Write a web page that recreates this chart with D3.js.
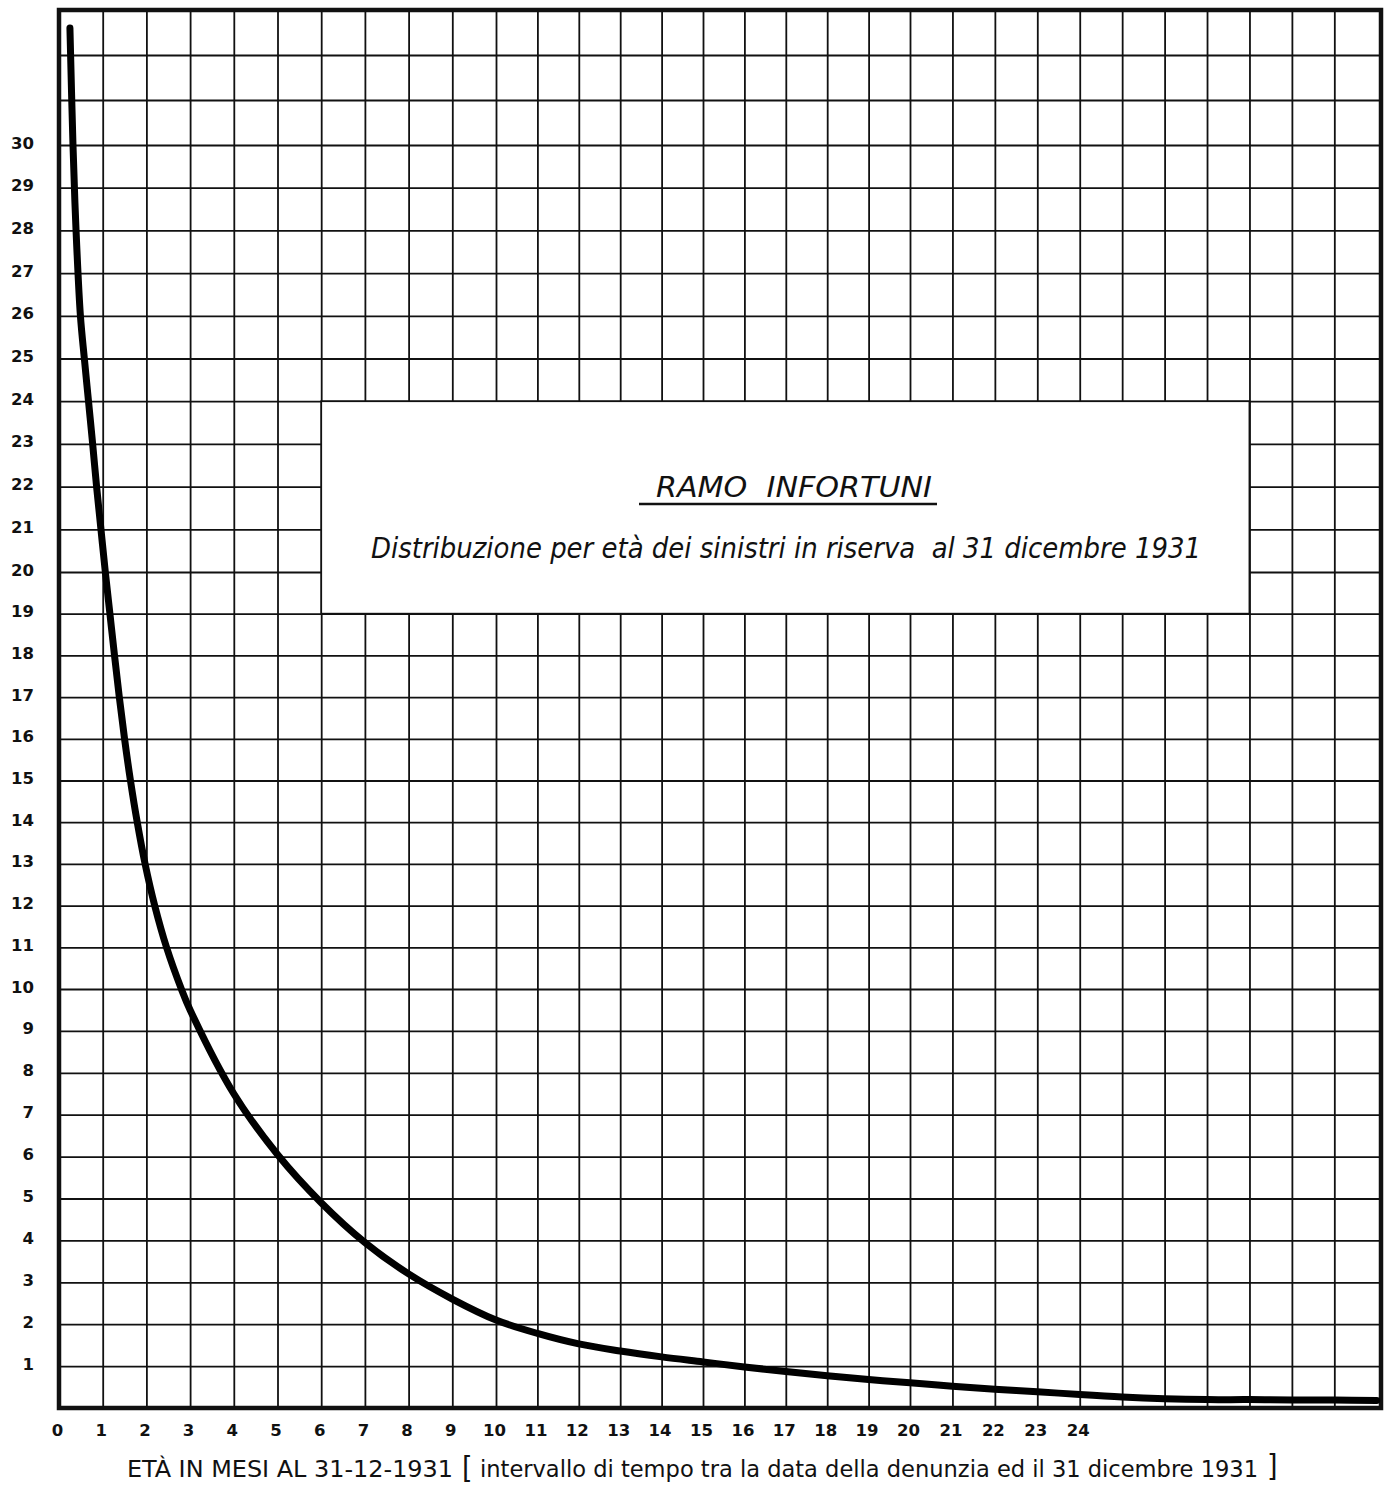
<!DOCTYPE html>
<html>
<head>
<meta charset="utf-8">
<script src="https://cdn.jsdelivr.net/npm/d3@7"></script>
<style>
  body { margin: 0; background: #fff; }
  svg { display: block; }
  .grid line { stroke: #111; stroke-width: 1.8; }
  .grid path { display: none; }
  .lbl text { font-family: "DejaVu Sans", sans-serif; font-weight: bold; font-size: 16.5px; fill: #111; }
  .lbl path, .lbl line { display: none; }
  .note { font-family: "DejaVu Sans Condensed", "DejaVu Sans", sans-serif; font-stretch: condensed; fill: #111; white-space: pre; }
</style>
</head>
<body>
<script>
// età in mesi (ascissa) e numero dei sinistri in riserva (ordinata)
const eta = [0.25, 0.32, 0.39, 0.49, 0.58, 0.675, 0.77, 0.86, 0.96, 1.06, 1.165, 1.27, 1.38, 1.5, 1.635, 1.79, 1.97, 2.19, 2.46, 2.8,
             3, 4, 5, 6, 7, 8, 9, 10, 11, 12, 13, 14, 15, 16, 17, 18, 19, 20, 21, 22, 23, 24, 25, 26, 27, 28, 29, 30, 31];
const sinistri = [32.6, 30, 28, 26, 25, 24, 23, 22, 21, 20, 19, 18, 17, 16, 15, 14, 13, 12, 11, 10,
                  9.5, 7.5, 6.05, 4.9, 3.95, 3.2, 2.6, 2.1, 1.78, 1.53, 1.36, 1.22, 1.1, 0.98, 0.87, 0.77, 0.68, 0.6,
                  0.52, 0.45, 0.39, 0.32, 0.26, 0.22, 0.2, 0.2, 0.19, 0.19, 0.18];

const xTicks = d3.range(0, 25);      // etichette 0..24
const yTicks = d3.range(1, 31);      // etichette 1..30
const xGrid = d3.range(1, 31);
const yGrid = d3.range(1, 33);
const xMax = 31.1, yMax = 33;

const title = "RAMO  INFORTUNI";
const subtitle = "Distribuzione per età dei sinistri in riserva  al 31 dicembre 1931";
const axisTitle1 = "ETÀ IN MESI AL 31-12-1931";
const axisTitle2 = "intervallo di tempo tra la data della denunzia ed il 31 dicembre 1931";

const width = 1388, height = 1488;

// the hand-drawn grid is slightly uneven, so the scales are piecewise
const x = d3.scaleLinear()
    .domain([0, 10, 20, xMax])
    .range([59, 496, 910, 1381]);

const y = d3.scaleLinear()
    .domain([0, 10, 20, 30, yMax])
    .range([1408, 989, 572, 145, 10]);

const svg = d3.select("body").append("svg")
    .attr("width", width)
    .attr("height", height);

svg.append("rect").attr("width", width).attr("height", height).attr("fill", "#fff");

// grid
svg.append("g")
    .attr("class", "grid")
    .attr("transform", "translate(0," + y(0) + ")")
    .call(d3.axisBottom(x).tickValues(xGrid).tickSize(-(y(0) - y(yMax))).tickFormat(""));

svg.append("g")
    .attr("class", "grid")
    .attr("transform", "translate(" + x(0) + ",0)")
    .call(d3.axisLeft(y).tickValues(yGrid).tickSize(-(x(xMax) - x(0))).tickFormat(""));

// white box for the title (grid cells 6..28 x 19..24)
svg.append("rect")
    .attr("x", x(6))
    .attr("y", y(24))
    .attr("width", x(28) - x(6))
    .attr("height", y(19) - y(24))
    .attr("fill", "#fff")
    .attr("stroke", "#111")
    .attr("stroke-width", 1.8);

// frame
svg.append("rect")
    .attr("x", x(0))
    .attr("y", y(yMax))
    .attr("width", x(xMax) - x(0))
    .attr("height", y(0) - y(yMax))
    .attr("fill", "none")
    .attr("stroke", "#111")
    .attr("stroke-width", 4.5);

// tick labels
const xl = svg.append("g")
    .attr("class", "lbl")
    .attr("transform", "translate(-2," + y(0) + ")")
    .call(d3.axisBottom(x).tickValues(xTicks).tickSize(0));
xl.selectAll("text").attr("y", 28).attr("dy", 0);

const yl = svg.append("g")
    .attr("class", "lbl")
    .attr("transform", "translate(34,0)")
    .call(d3.axisLeft(y).tickValues(yTicks).tickSize(0));
yl.selectAll("text").attr("x", 0).attr("dy", 3);

// curve
const line = d3.line()
    .x(function (d, i) { return x(eta[i]); })
    .y(function (d) { return y(d); })
    .curve(d3.curveCatmullRom.alpha(0.5));

svg.append("path")
    .datum(sinistri)
    .attr("d", line)
    .attr("fill", "none")
    .attr("stroke", "#000")
    .attr("stroke-width", 7)
    .attr("stroke-linecap", "round")
    .attr("stroke-linejoin", "round");

// titles
svg.append("text")
    .attr("class", "note")
    .attr("x", 656).attr("y", 497)
    .attr("font-size", 28)
    .attr("font-style", "italic")
    .attr("textLength", 276)
    .attr("lengthAdjust", "spacingAndGlyphs")
    .text(title);

svg.append("line")
    .attr("x1", 639).attr("x2", 937)
    .attr("y1", 504).attr("y2", 504)
    .attr("stroke", "#111").attr("stroke-width", 2.5);

svg.append("text")
    .attr("class", "note")
    .attr("x", 371).attr("y", 558)
    .attr("font-size", 29)
    .attr("font-style", "italic")
    .attr("textLength", 830)
    .attr("lengthAdjust", "spacingAndGlyphs")
    .text(subtitle);

svg.append("text")
    .attr("class", "note")
    .attr("x", 127).attr("y", 1477)
    .attr("font-size", 23)
    .attr("textLength", 326)
    .attr("lengthAdjust", "spacingAndGlyphs")
    .text(axisTitle1);

svg.append("text")
    .attr("class", "note")
    .attr("x", 462).attr("y", 1478)
    .attr("font-size", 30)
    .text("[");

svg.append("text")
    .attr("class", "note")
    .attr("x", 480).attr("y", 1477)
    .attr("font-size", 23)
    .attr("textLength", 778)
    .attr("lengthAdjust", "spacingAndGlyphs")
    .text(axisTitle2);

svg.append("text")
    .attr("class", "note")
    .attr("x", 1267).attr("y", 1476)
    .attr("font-size", 30)
    .text("]");
</script>
</body>
</html>
